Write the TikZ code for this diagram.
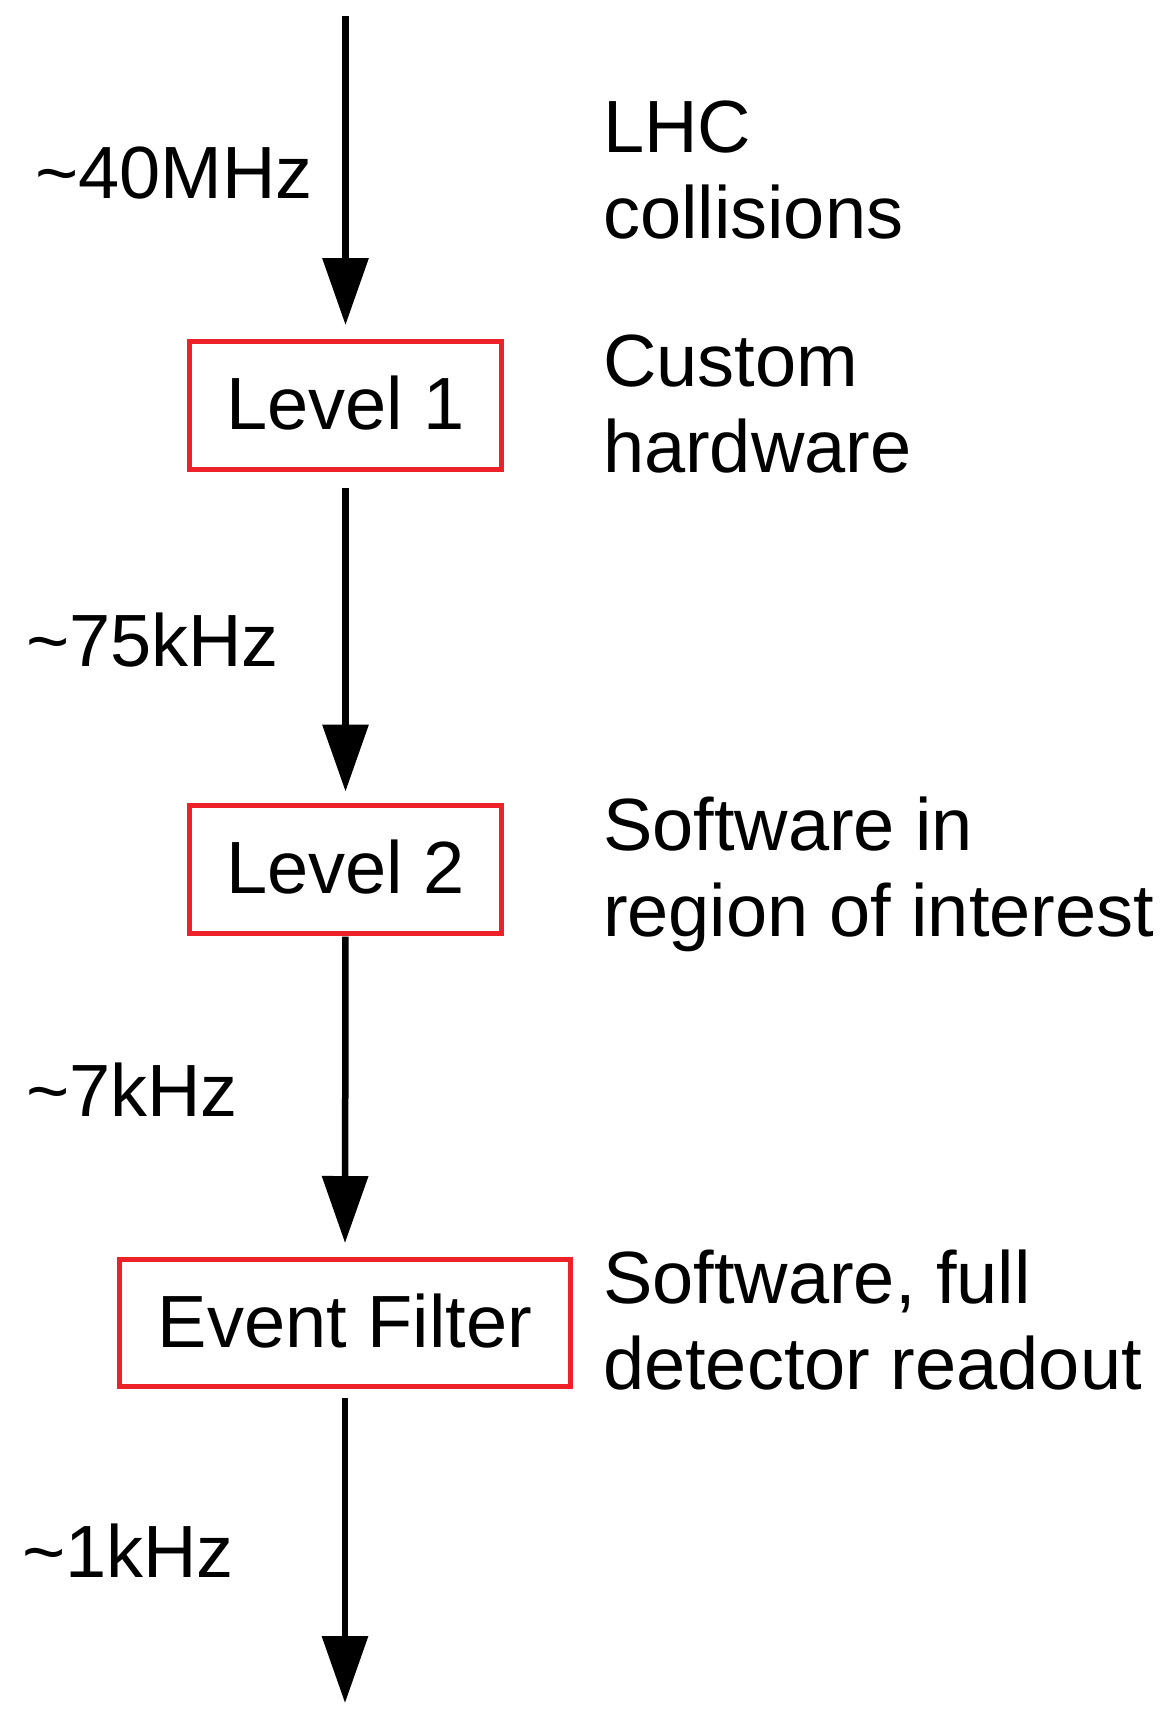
\documentclass[tikz,border=0pt]{standalone}
\usepackage{fontspec}
\setmainfont{Liberation Sans}
\usetikzlibrary{arrows.meta}
\definecolor{boxred}{RGB}{237,34,40}
\begin{document}
\begin{tikzpicture}[x=1pt,y=-1pt,
  every node/.style={font=\fontsize{74}{86}\selectfont, inner sep=0pt, outer sep=0pt},
  stagebox/.style={draw=boxred, line width=5pt, minimum height=128pt, text height=48pt, text depth=0pt},
  flow/.style={line width=6.5pt, -{Triangle[length=67pt,width=45pt]}},
  rate/.style={anchor=base west},
  note/.style={anchor=base west, align=left}]
\useasboundingbox (0,0) rectangle (1169,1709);
% stages
\node[stagebox, minimum width=312pt] (l1) at (345.5,405.5) {Level 1};
\node[stagebox, minimum width=312pt] (l2) at (345.5,869) {Level 2};
\node[stagebox, minimum width=451pt, minimum height=127pt] (ef) at (345,1323) {Event Filter};
% free ends
\coordinate (start) at (345.5,16);
\coordinate (finish) at (345,1703);
% connectors
\draw[flow, shorten >=16.5pt] (start) -- (l1.north);
\draw[flow, shorten <=18.5pt, shorten >=13.5pt] (l1.south) -- (l2.north);
\draw[flow, shorten <=3.5pt, shorten >=16.5pt] (l2.south) -- (ef.north);
\draw[flow, shorten <=11.5pt] (ef.south) -- (finish);
% rates
\node[rate] (r1) at (35,198) {\textasciitilde40MHz};
\node[rate] (r2) at (26,666) {\textasciitilde75kHz};
\node[rate] (r3) at (26,1116) {\textasciitilde7kHz};
\node[rate] (r4) at (22,1577) {\textasciitilde1kHz};
% descriptions (anchor on the baseline of the last line)
\node[note] (d1) at (603,238) {LHC\\collisions};
\node[note] (d2) at (603,472) {Custom\\hardware};
\node[note] (d3) at (603,936) {Software in\\region of interest};
\node[note] (d4) at (603,1389) {Software, full\\detector readout};
\end{tikzpicture}
\end{document}
